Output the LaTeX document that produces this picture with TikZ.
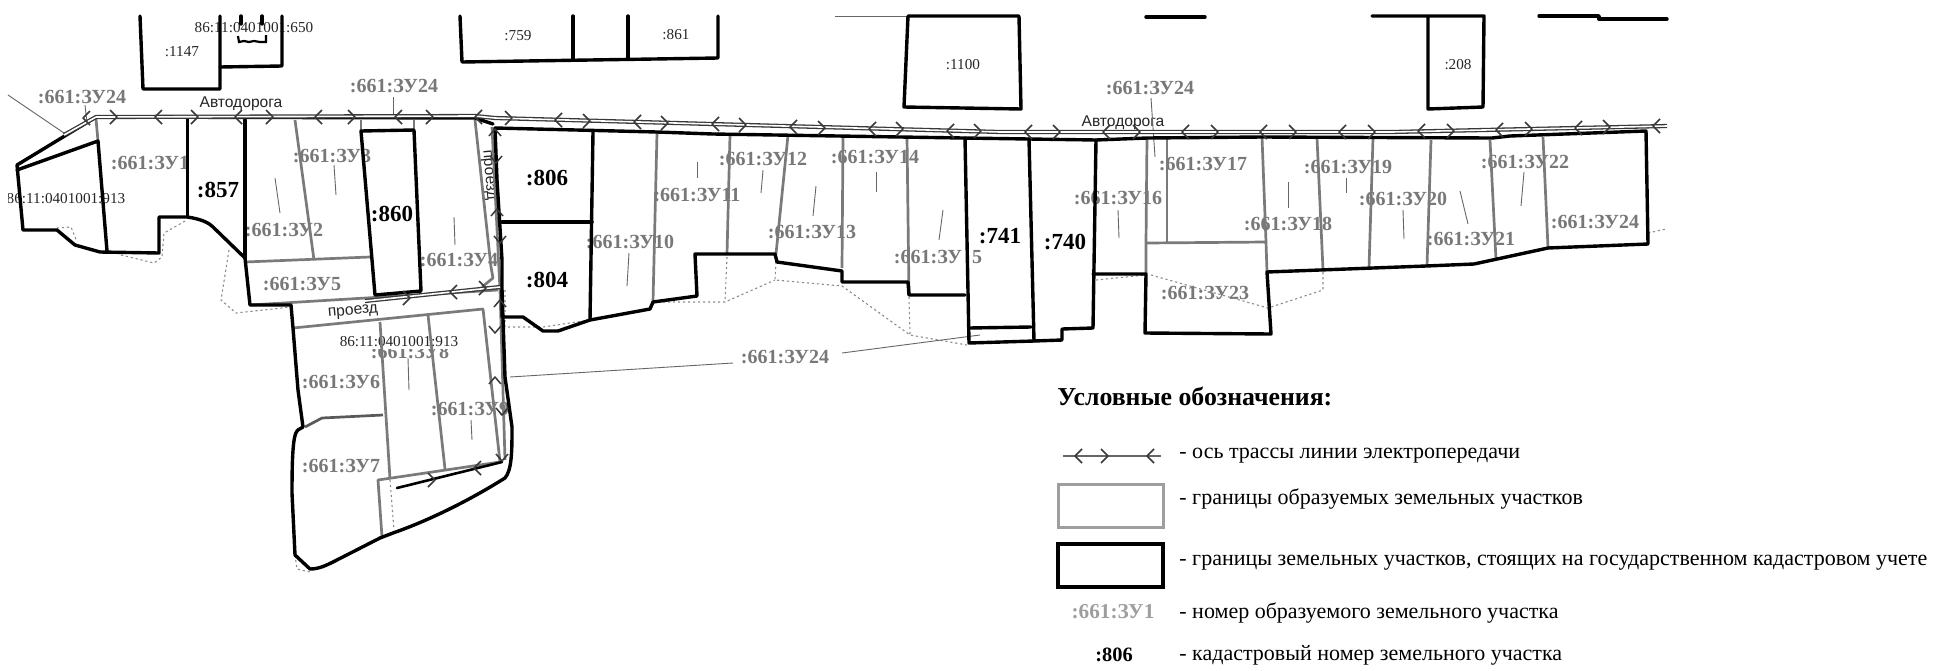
\documentclass[tikz,border=0pt]{standalone}
\usepackage{fontspec}
\setmainfont{Liberation Serif}
\newfontfamily\arialf{Liberation Sans}
\definecolor{newgray}{gray}{0.48}
\definecolor{labgray}{gray}{0.47}
\definecolor{leggray}{gray}{0.62}
\tikzset{
  blk/.style={draw=black,line width=1.7pt,line join=round,line cap=round},
  blkthin/.style={draw=black,line width=1.1pt,line join=miter},
  gry/.style={draw=newgray,line width=1.35pt,line join=round},
  lead/.style={draw=black!60,line width=0.45pt},
  dots/.style={draw=black!45,line width=0.55pt,dash pattern=on 1.1pt off 1.4pt},
  road/.style={draw=black!78,line width=0.65pt,double=white,double distance=0.8pt,line join=round},
  chevst/.style={draw=black!78,line width=0.75pt,line join=round},
  zu/.style={text=labgray,font=\bfseries\fontsize{10}{10}\selectfont,inner sep=0pt},
  cad/.style={text=black,font=\bfseries\fontsize{11.5}{12}\selectfont,inner sep=0pt},
  small/.style={text=black!85,font=\fontsize{7.6}{8}\selectfont,inner sep=0pt},
  sans/.style={text=black!85,font=\arialf\fontsize{7.8}{8}\selectfont,inner sep=0pt},
  legt/.style={text=black,font=\fontsize{11}{11}\selectfont,inner sep=0pt,anchor=west},
}
\newcommand\chl[2]{\draw[chevst] (#1+4,#2-7) -- (#1-3,#2) -- (#1+4,#2+7);}
\newcommand\chr[2]{\draw[chevst] (#1-4,#2-7) -- (#1+3,#2) -- (#1-4,#2+7);}
\newcommand\chu[2]{\draw[chevst] (#1-6,#2+4) -- (#1,#2-3) -- (#1+6,#2+4);}
\newcommand\chd[2]{\draw[chevst] (#1-6,#2-4) -- (#1,#2+3) -- (#1+6,#2-4);}
\begin{document}
\begin{tikzpicture}[x=0.5pt,y=-0.5pt]
\useasboundingbox (0,0) rectangle (1949,670);
\fill[white] (0,0) rectangle (1949,670);

% --- labels (lines are drawn over them)
\begin{scope}
\clip (8,170) rectangle (200,230);
\node[small] (n913a) at (66,199) {86:11:0401001:913};
\end{scope}
\node[zu] (z1) at (150,163) {:661:ЗУ1};
\node[zu] (z2) at (284,230) {:661:ЗУ2};
\node[zu] (z3) at (332,156) {:661:ЗУ3};
\node[zu] (z4) at (459,260) {:661:ЗУ4};
\node[zu] (z5) at (302,284) {:661:ЗУ5};
\node[zu] (z6) at (341,382) {:661:ЗУ6};
\node[zu] (z7) at (341,466) {:661:ЗУ7};
\node[zu] (z8) at (410,352) {:661:ЗУ8};
\node[zu] (z9) at (470,409) {:661:ЗУ9};
\node[fill=white,inner sep=0pt,minimum width=75pt,minimum height=9pt] (mask) at (399,340) {};
\node[small] (n913b) at (399,342) {86:11:0401001:913};
\node[zu] (z10) at (630,242) {:661:ЗУ10};
\node[zu] (z11) at (697,195) {:661:ЗУ11};
\node[zu] (z12) at (763,159) {:661:ЗУ12};
\node[zu] (z13) at (812,232) {:661:ЗУ13};
\node[zu] (z14) at (875,157) {:661:ЗУ14};
\node[zu] (z15) at (938,257) {:661:ЗУ\hspace{5pt}5};
\node[zu] (z16) at (1118,198) {:661:ЗУ16};
\node[zu] (z17) at (1203,164) {:661:ЗУ17};
\node[zu] (z18) at (1288,224) {:661:ЗУ18};
\node[zu] (z19) at (1348,167) {:661:ЗУ19};
\node[zu] (z20) at (1403,199) {:661:ЗУ20};
\node[zu] (z21) at (1471,239) {:661:ЗУ21};
\node[zu] (z22) at (1525,162) {:661:ЗУ22};
\node[zu] (z23) at (1205,293) {:661:ЗУ23};
\node[zu] (z24a) at (82,97) {:661:ЗУ24};
\node[zu] (z24b) at (394,86) {:661:ЗУ24};
\node[zu] (z24c) at (785,357) {:661:ЗУ24};
\node[zu] (z24d) at (1150,88) {:661:ЗУ24};
\node[zu] (z24e) at (1595,222) {:661:ЗУ24};
\node[cad] (c857) at (218,190) {:857};
\node[cad] (c860) at (392,214) {:860};
\node[cad] (c806) at (547,178) {:806};
\node[cad] (c804) at (547,280) {:804};
\node[cad] (c741) at (1000,236) {:741};
\node[cad] (c740) at (1065,242) {:740};
\node[small] (n1147) at (182,52) {:1147};
\node[small] (n650) at (254,28) {86:11:0401001:650};
\node[small] (n759) at (518,36) {:759};
\node[small] (n861) at (676,35) {:861};
\node[small] (n1100) at (963,65) {:1100};
\node[small] (n208) at (1458,65) {:208};
\node[sans] (road1) at (241,104) {Автодорога};
\node[sans] (road2) at (1123,123) {Автодорога};
\node[sans,rotate=5] (pr1) at (353,312) {проезд};
\node[sans,rotate=-85] (pr2) at (488,175) {проезд};

% --- upper neighbouring parcels
\draw[blk] (140,16) -- (143,89) -- (220,89) -- (220,16);
\draw[blk] (220,67) -- (282,66) -- (282,16);
\draw[blk] (241,16) -- (241,24) (262,16) -- (262,24);
\draw[blkthin] (238,36) -- (239,42) -- (244,41) -- (249,42) -- (254,41) -- (260,42) -- (266,42) -- (266,35);
\draw[blk] (460,16) -- (462,62) -- (718,58) -- (718,16);
\draw[blk] (573,16) -- (573,60) (628,16) -- (628,59);
\draw[lead] (835,16) -- (908,16);
\draw[blk] (908,16) -- (1019,16) -- (1021,109) -- (904,107) -- cycle;
\draw[blk] (1146,17) -- (1205,17);
\draw[blk] (1372,16) -- (1484,16) -- (1483,107) -- (1428,109) -- (1428,16);
\draw[blk] (1539,16) -- (1599,16) -- (1599,19) -- (1667,19);

% --- dotted old boundaries
\draw[dots] (57,228) -- (71,227) -- (77,242);
\draw[dots] (121,255) -- (154,263) -- (162,257) -- (164,233) -- (187,220);
\draw[dots] (229,250) -- (221,300) -- (236,313) -- (291,307);
\draw[dots] (505,290) -- (505,327) -- (543,327) -- (590,320);
\draw[dots] (390,480) -- (394,530);
\draw[dots] (295,555) -- (297,569) -- (310,572);
\draw[dots] (727,257) -- (725,302);
\draw[dots] (653,302) -- (725,302) -- (775,280);
\draw[dots] (776,262) -- (775,280) -- (842,286) -- (910,335) -- (967,345);
\draw[dots] (909,297) -- (910,335);
\draw[dots] (1096,280) -- (1146,275);
\draw[dots] (1151,275) -- (1268,308) -- (1323,290) -- (1323,270);
\draw[dots] (1648,233) -- (1666,229);

% --- leaders
\draw[lead] (8,95) -- (64,133);
\draw[lead] (85,105) -- (87,123);
\draw[lead] (393,97) -- (393,117);
\draw[lead] (1151,98) -- (1155,157);
\draw[lead] (510,377) -- (733,363);
\draw[lead] (842,353) -- (980,335);
\draw[lead] (275,178) -- (280,213);
\draw[lead] (334,165) -- (336,195);
\draw[lead] (454,217) -- (455,245);
\draw[lead] (408,358) -- (409,390);
\draw[lead] (471,420) -- (472,440);
\draw[lead] (629,253) -- (627,286);
\draw[lead] (697,162) -- (697,178);
\draw[lead] (763,170) -- (761,193);
\draw[lead] (816,186) -- (813,216);
\draw[lead] (876,172) -- (876,192);
\draw[lead] (943,210) -- (939,240);
\draw[lead] (1118,210) -- (1119,238);
\draw[lead] (1288,182) -- (1288,208);
\draw[lead] (1346,178) -- (1346,193);
\draw[lead] (1403,210) -- (1404,239);
\draw[lead] (1460,191) -- (1468,224);
\draw[lead] (1524,172) -- (1521,206);

% --- new (gray) boundaries
\draw[gry] (96,119) -- (98,141);
\draw[gry] (295,120) -- (314,260);
\draw[gry] (245,262) -- (370,257);
\draw[gry] (250,305) -- (498,290);
\draw[gry] (361,120) -- (361,131) (414,120) -- (414,130);
\draw[gry] (475,120) -- (491,267) (491,267) -- (493,278) -- (482,287);
\draw[gry] (293,328) -- (483,309) -- (500,462) -- (378,480) -- (382,537);
\draw[gry] (380,322) -- (390,479);
\draw[gry] (428,315) -- (445,469);
\draw[gry,draw=black!65] (305,427) -- (322,418) -- (383,415);
\draw[gry] (492,127) -- (500,290) -- (505,460);
\draw[gry] (657,133) -- (653,302);
\draw[gry] (730,135) -- (727,254);
\draw[gry] (788,135) -- (776,254);
\draw[gry] (843,136) -- (842,268);
\draw[gry] (907,137) -- (909,295);
\draw[gry] (1147,138) -- (1146,243) -- (1146,274);
\draw[gry] (1167,138) -- (1167,243);
\draw[gry] (1146,243) -- (1266,242) -- (1267,272);
\draw[gry] (1262,137) -- (1266,242);
\draw[gry] (1317,138) -- (1323,270);
\draw[gry] (1373,138) -- (1369,268);
\draw[gry] (1431,140) -- (1427,266);
\draw[gry] (1490,140) -- (1496,260);
\draw[gry] (1543,137) -- (1548,248);

% --- registered (black) boundaries
\draw[blk] (17,170) -- (98,141) -- (107,251);
\draw[blk] (493,124) -- (475,118) -- (96,117) -- (17,165) -- (23,230) -- (57,230) -- (75,245) -- (100,252) -- (159,253) -- (159,217) -- (187.5,217) .. controls (200,219) and (208,222) .. (213,227) -- (245,258) -- (250,305) -- (291,305) -- (293,328) -- (298,390) -- (303,427) -- (298,430) .. controls (294,433) and (292,445) .. (292,493) -- (295,555) -- (310,569) .. controls (318,569) and (325,566) .. (333,562) -- (380,538) -- (393,533) .. controls (430,520) and (470,500) .. (505,478) .. controls (512,470) and (512,450) .. (512,427) -- (505,377) -- (502,290);
\draw[blk] (187.5,117) -- (187.5,217);
\draw[blk] (245,120) -- (245,258);
\draw[blk] (361,131) -- (414,130) -- (421,291) -- (375,295) -- cycle;
\draw[blk] (495,128) -- (497,180) -- (502,260) -- (502,317) -- (523,317) -- (543,331) -- (558,331) -- (590,320) -- (650,309) -- (653,302) -- (697,296) -- (695,254) -- (775,254) -- (777,262) -- (842,271) -- (842,282) -- (908,282) -- (909,295) -- (965,295);
\draw[blk] (495,128) -- (657,132) -- (713,134) -- (963,138) -- (1029,139) -- (1096,140) -- (1147,138) -- (1262,137) -- (1492,138) -- (1510,136) -- (1646,131) -- (1648,244) -- (1548,248) -- (1474,264) -- (1426,266) -- (1267,272) -- (1271,334) -- (1145,333) -- (1146,274) -- (1093,274);
\draw[blk] (502,222) -- (592,222);
\draw[blk] (593,132) -- (590,320);
\draw[blk] (965,138) -- (969,343) -- (1034,341) -- (1062,340) -- (1062,329) -- (1093,328) -- (1096,140);
\draw[blk] (969,328) -- (1031,327);
\draw[blk] (1029,139) -- (1034,341);
\draw[blk,line width=1.3pt] (397,488) -- (502,462);

% --- power line axis
\draw[road] (64,135) -- (96,117) -- (475,116) -- (495,118) -- (1000,132) -- (1392,132) -- (1667,126);
\draw[road] (365,301) -- (500,287);
\foreach \x/\y in {86/118,158/117,238/117,318/117,398/117,478/117,558/120,637/122,715/124,793/127,872/129,950/131,1028/132,1106/132,1185/132,1263/132,1342/132,1421/131,1499/130,1578/128,1656/126}{\chl{\x}{\y}}
\foreach \x/\y in {114/117,195/117,270/117,352/117,430/117,509/118,587/121,665/123,743/125,822/128,900/129,978/131,1057/132,1137/132,1215/132,1293/132,1372/132,1451/131,1529/129,1607/127}{\chr{\x}{\y}}
\foreach \x/\y in {495/132,497/212,500/303,495/380}{\chu{\x}{\y}}
\foreach \x/\y in {496/160,500/240,495/330,502/412,502/458}{\chd{\x}{\y}}
\chr{407}{298} \chl{453}{292} \chr{483}{288}
\chr{432}{480} \chl{477}{468}

% --- legend
\node[font=\bfseries\fontsize{12.9}{13}\selectfont,inner sep=0pt,anchor=west] (title) at (1057,396) {Условные обозначения:};
\coordinate (la) at (1063,456);
\coordinate (lb) at (1161,456);
\draw[draw=black!60,line width=0.8pt] (la) -- (lb);
\chl{1078}{456} \chr{1105}{456} \chl{1150}{456}
\node[legt] (t1) at (1179,456) {- ось трассы линии электропередачи};
\draw[draw=leggray,line width=1.5pt] (1058,484) rectangle (1163,527);
\node[legt] (t2) at (1179,499) {- границы образуемых земельных участков};
\draw[draw=black,line width=1.8pt] (1058,544) rectangle (1163,587);
\node[legt] (t3) at (1179,563) {- границы земельных участков, стоящих на государственном кадастровом учете};
\node[zu,text=leggray,font=\bfseries\fontsize{10.6}{11}\selectfont] (s1) at (1113,612) {:661:ЗУ1};
\node[legt] (t4) at (1179,613) {- номер образуемого земельного участка};
\node[font=\bfseries\fontsize{10.2}{11}\selectfont,inner sep=0pt] (s2) at (1114,655) {:806};
\node[legt] (t5) at (1179,655) {- кадастровый номер земельного участка};
\end{tikzpicture}
\end{document}
